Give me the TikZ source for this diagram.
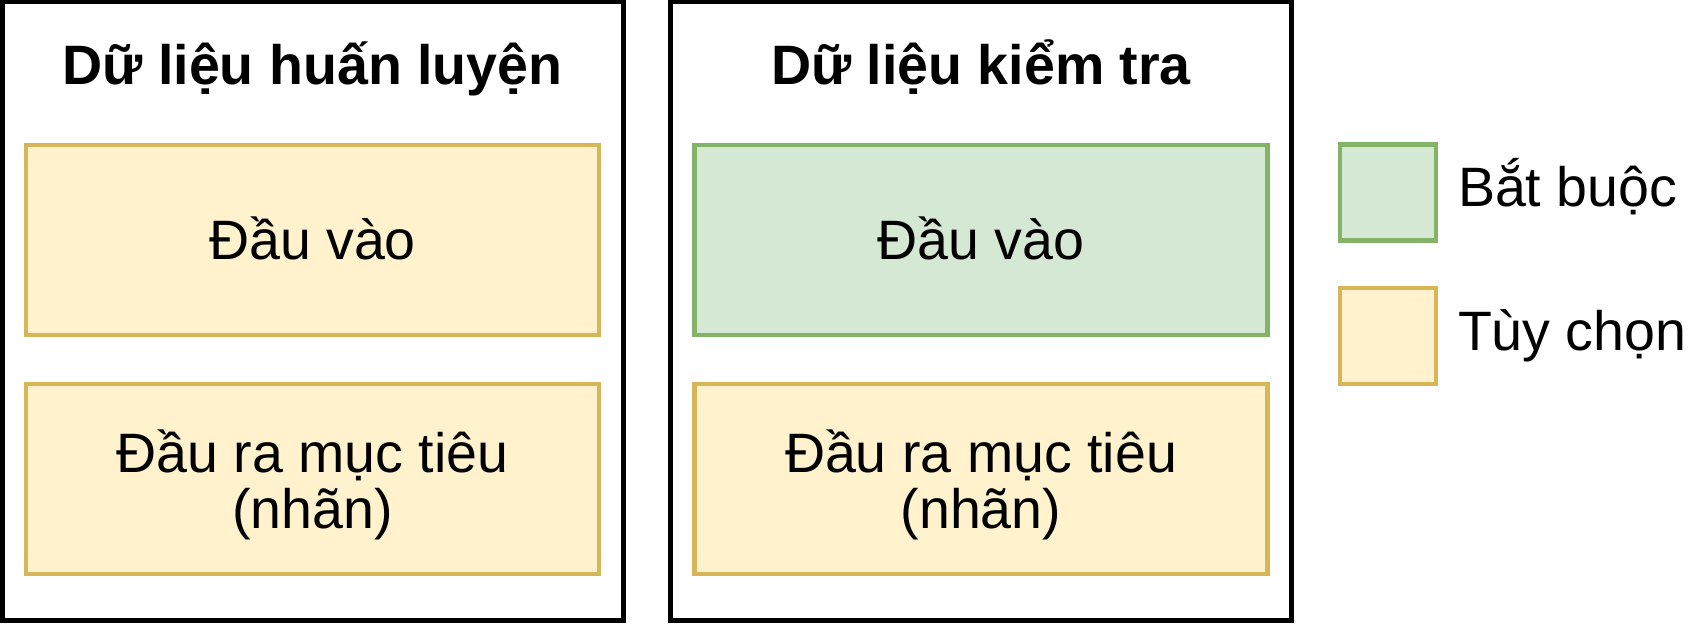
\documentclass[tikz,border=0pt]{standalone}
\usepackage{fontspec}
\setmainfont{Liberation Sans}
\usetikzlibrary{positioning}
\definecolor{reqdraw}{HTML}{82B366}
\definecolor{reqfill}{HTML}{D5E8D4}
\definecolor{optdraw}{HTML}{D6B656}
\definecolor{optfill}{HTML}{FFF2CC}
\tikzset{
	every node/.append style={
		inner sep=0mm,
		outer sep=0mm,
	},
	frame/.append style={
		draw,
		line width=0.5mm,
		minimum width=62.1mm,
		minimum height=61.9mm
	},
	field/.append style={
		draw,
		line width=0.45mm,
		minimum width=57.3mm,
		minimum height=19mm
	},
	keybox/.append style={
		draw,
		line width=0.45mm,
		minimum width=9.6mm,
		minimum height=9.6mm
	},
	req/.append style={draw=reqdraw, fill=reqfill},
	opt/.append style={draw=optdraw, fill=optfill},
	labe/.append style={
		align = center,
		font={\fontsize{15.8pt}{15.9pt}\selectfont}
	},
	head/.append style={
		align = center,
		font={\fontsize{15.8pt}{15.9pt}\selectfont\bfseries}
	}
}

\begin{document}
\begin{tikzpicture}[x=0.1mm, y=-0.1mm]
\useasboundingbox (0,0) rectangle (1696,624);
% training data
\node[frame] (a) at (312.5,311.5) {};
\node[head, anchor=base] (at) at (312.5,85) {Dữ liệu huấn luyện};
\node[field, opt] (a1) at (312.5,240) {};
\node[field, opt, below=4.9mm of a1] (a2) {};
\node[labe, anchor=base] (a1t) at ([yshift=-2mm]a1.center) {Đầu vào};
\node[labe, anchor=base] (a2t) at ([yshift=-4.95mm]a2.center) {Đầu ra mục tiêu\\(nhãn)};

% test data
\node[frame, right=4.75mm of a] (b) {};
\node[head, anchor=base] (bt) at (b.center |- at.base) {Dữ liệu kiểm tra};
\node[field, req] (b1) at (a1 -| b.center) {};
\node[field, opt] (b2) at (a2 -| b.center) {};
\node[labe, anchor=base] (b1t) at ([yshift=-2mm]b1.center) {Đầu vào};
\node[labe, anchor=base] (b2t) at ([yshift=-4.95mm]b2.center) {Đầu ra mục tiêu\\(nhãn)};

% legend
\node[keybox, req] (k1) at (1388,192.5) {};
\node[keybox, opt, below=4.75mm of k1] (k2) {};
\node[labe, anchor=base west] (k1t) at ([xshift=7mm, yshift=-1.4mm]k1.center) {Bắt buộc};
\node[labe, anchor=base west] (k2t) at ([xshift=7mm, yshift=-1.5mm]k2.center) {Tùy chọn};
\end{tikzpicture}
\end{document}
